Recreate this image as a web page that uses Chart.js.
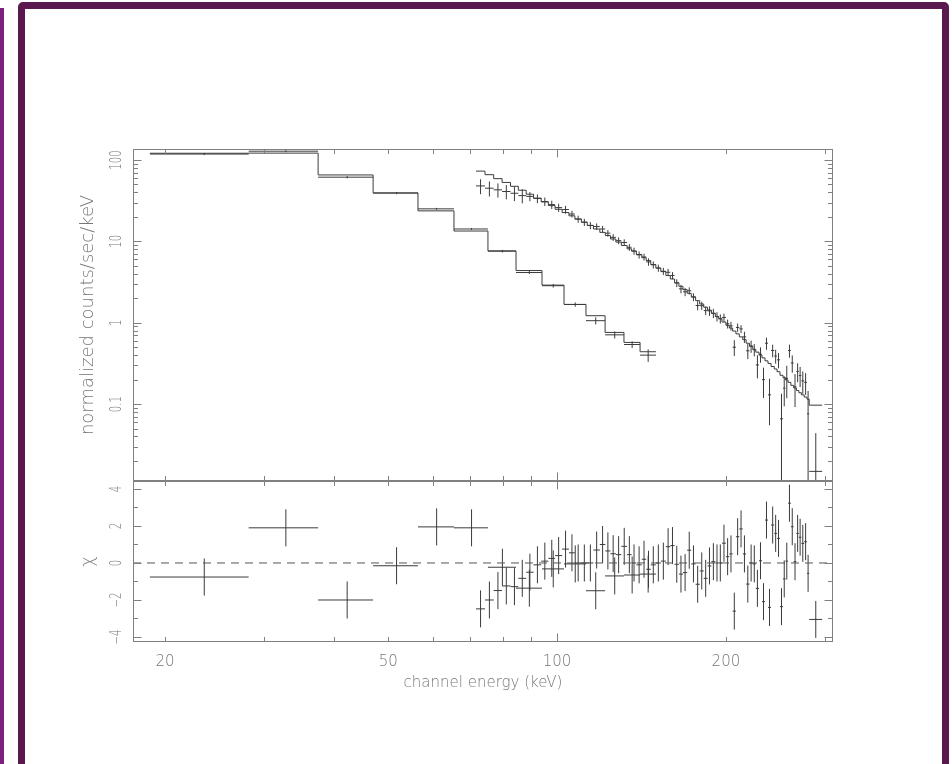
<!DOCTYPE html>
<html>
<head>
<meta charset="utf-8">
<title>Spectrum and residuals</title>
<script src="https://cdn.jsdelivr.net/npm/chart.js@4.4.1/dist/chart.umd.min.js"></script>
<style>
  html, body { margin: 0; padding: 0; background: #fff; }
  body { position: relative; width: 952px; height: 764px; overflow: hidden; }
  .strip { position: absolute; left: 0; top: 8px; bottom: 0; width: 4px; background: #7c1f80; }
  .frame {
    position: absolute; left: 18px; top: 2px; width: 931px; height: 770px;
    box-sizing: border-box; border: 7px solid #5b184f; border-radius: 5px;
  }
  canvas { position: absolute; left: 0; top: 0; }
</style>
</head>
<body>
<div class="strip"></div>
<div class="frame"></div>
<canvas id="spectrum" width="952" height="764"></canvas>
<canvas id="residuals" width="952" height="764"></canvas>
<script>
// Low-energy instrument: wide channels (keV edges), rate, 1-sigma error, fitted model, delta-chi
const lowEdges = [18.8, 28.2, 37.5, 47.0, 56.5, 65.5, 75.3, 84.5, 94.0, 102.9, 112.6, 121.8, 131.6, 140.6, 150.1];
const lowRate = [118.3, 128.3, 61.5, 39.2, 25.1, 14.2, 7.58, 4.14, 2.85, 1.675, 1.06, 0.71, 0.54, 0.40];
const lowRateErr = [3.6, 3.6, 2.0, 1.2, 0.7, 0.4, 0.27, 0.175, 0.145, 0.1, 0.107, 0.07, 0.05, 0.07];
const lowModel = [121, 121.5, 65.5, 39.4, 23.7, 13.4, 7.64, 4.38, 2.90, 1.68, 1.22, 0.76, 0.573, 0.44];
const lowChi = [-0.76, 1.9, -2.0, -0.15, 1.95, 1.9, -0.23, -1.36, -0.32, -0.05, -1.5, -0.7, -0.65, -0.6];

// High-energy instrument: narrow channels
const hiEdges = [
  71.7, 74.4, 77.1, 79.8, 82.6, 85.3, 88.1, 90.8, 93.7, 96.5, 99.2, 102.1, 105.0, 107.6, 110.5,
  113.2, 116.1, 119.2, 121.9, 124.5, 127.3, 130.2, 133.3, 135.8, 138.5, 141.6, 144.2, 146.9, 150.0,
  153.1, 156.3, 159.2, 162.0, 164.9, 167.7, 170.6, 173.5, 176.6, 179.6, 182.6, 185.5, 188.4, 191.5,
  194.1, 196.8, 200.0, 202.8, 205.6, 208.4, 211.3, 214.3, 217.3, 220.3, 223.3, 226.1, 229.1, 231.9,
  234.8, 237.7, 240.7, 243.9, 246.7, 249.7, 252.8, 255.4, 258.1, 261.1, 264.1, 267.1, 269.8, 272.6,
  275.8, 279.0, 281.5, 296.9
];
const hiRate = [
  48, 45, 43, 41, 39, 36.5, 35.7, 33.6, 30.9, 28.3,
  26.0, 24.6, 21.7, 18.8, 17.2, 15.7, 15.2, 14.2, 12.6, 11.2,
  10.2, 9.7, 8.46, 7.6, 6.83, 6.43, 5.6, 5.15, 4.7, 4.29,
  4.17, 3.81, 3.08, 2.61, 2.40, 2.47, 2.07, 1.63, 1.62, 1.41,
  1.40, 1.31, 1.19, 1.12, 1.16, 0.97, 0.915, 0.50, 0.875, 0.84,
  0.67, 0.452, 0.515, 0.466, 0.303, 0.41, 0.20, 0.56, 0.13, 0.456,
  0.39, 0.35, 0.066, 0.157, 0.207, 0.455, 0.32, 0.163, 0.252, 0.224,
  0.193, 0.185, 0.076, 0.0149
];
const hiRateErr = [
  10, 9.4, 8.5, 8.2, 7.8, 7.2, 4.6, 4.1, 3.7, 3.3,
  3.0, 2.7, 2.06, 1.88, 1.72, 1.57, 1.42, 1.29, 1.18, 1.07,
  0.98, 0.89, 0.81, 0.76, 0.69, 0.63, 0.58, 0.52, 0.47, 0.425,
  0.42, 0.38, 0.34, 0.31, 0.28, 0.25, 0.23, 0.21, 0.19, 0.17,
  0.19, 0.17, 0.155, 0.146, 0.133, 0.121, 0.112, 0.111, 0.102, 0.094,
  0.105, 0.095, 0.088, 0.080, 0.096, 0.088, 0.081, 0.095, 0.075, 0.081,
  0.076, 0.075, 0.068, 0.063, 0.089, 0.083, 0.077, 0.071, 0.066, 0.062,
  0.059, 0.055, 0.069, 0.029
];
const hiModel = [
  73, 66, 59, 53, 47.5, 42.5, 38, 34, 30.5, 27.5,
  24.8, 22.6, 20.6, 18.8, 17.2, 15.7, 14.2, 12.9, 11.8, 10.7,
  9.8, 8.9, 8.1, 7.6, 6.9, 6.3, 5.8, 5.2, 4.7, 4.25,
  3.8, 3.45, 3.1, 2.8, 2.55, 2.3, 2.08, 1.87, 1.70, 1.55,
  1.43, 1.30, 1.19, 1.12, 1.02, 0.93, 0.86, 0.79, 0.73, 0.67,
  0.62, 0.56, 0.515, 0.47, 0.435, 0.40, 0.37, 0.34, 0.316, 0.29,
  0.27, 0.25, 0.226, 0.211, 0.198, 0.185, 0.170, 0.158, 0.147, 0.138,
  0.130, 0.122, 0.115, 0.097
];
const hiChi = [
  -2.48, -2.0, -1.49, -1.24, -1.28, -0.83, -0.5, -0.1, 0.1, 0.25,
  0.4, 0.75, 0.55, 0.0, 0.0, 0.0, 0.7, 1.0, 0.65, 0.5,
  0.45, 0.9, 0.45, 0.0, -0.1, 0.2, -0.34, -0.1, 0.0, 0.1,
  0.88, 0.94, -0.07, -0.6, -0.52, 0.69, -0.05, -1.15, -0.43, -0.83,
  -0.16, 0.07, 0.0, 0.0, 1.07, 0.34, 0.49, -2.6, 1.42, 1.84,
  0.49, -1.14, 0.0, -0.05, -1.37, 0.12, -2.09, 2.32, -2.4, 2.05,
  1.6, 1.33, -2.36, -0.86, 0.1, 3.23, 1.96, 0.07, 1.6, 1.39,
  1.06, 1.15, -0.56, -3.05
];

// Axis ranges and labelled ticks
const energyRange = [17.54, 310.4];
const rateRange = [0.01135, 136.5];
const chiRange = [-4.27, 4.43];
const energyLabels = [20, 50, 100, 200];
const rateLabels = [100, 10, 1, 0.1];
const chiLabels = [4, 2, 0, -2, -4];

const INK = '#3b3b3b';
const AXIS = '#808080';
const TEXT = '#777';
const FONT = '"DejaVu Sans", "Liberation Sans", sans-serif';

// Model histogram: one horizontal run per channel, drop at each edge
function stepLine(edges, values) {
  const pts = values.map((v, i) => ({ x: edges[i], y: v }));
  pts.push({ x: edges[edges.length - 1], y: values[values.length - 1] });
  return pts;
}

// Data crosses: channel width across, +/- error up and down, gaps between crosses
function crosses(edges, values, errs, floor) {
  const pts = [];
  values.forEach((v, i) => {
    const lo = edges[i], hi = edges[i + 1], mid = (lo + hi) / 2;
    const down = Math.max(v - errs[i], floor);
    pts.push({ x: lo, y: v }, { x: hi, y: v }, { x: hi, y: NaN });
    pts.push({ x: mid, y: down }, { x: mid, y: v + errs[i] }, { x: mid, y: NaN });
  });
  return pts;
}

function lineSet(data, extra) {
  return Object.assign({
    data, borderColor: INK, borderWidth: 1, pointRadius: 0, fill: false, spanGaps: false
  }, extra || {});
}

function logTicks(min, max) {
  const major = [], minor = [];
  for (let e = Math.floor(Math.log10(min)); e <= Math.ceil(Math.log10(max)); e++) {
    for (let m = 1; m < 10; m++) {
      const v = m * Math.pow(10, e);
      if (v < min || v > max) continue;
      (m === 1 ? major : minor).push(v);
    }
  }
  return { major, minor };
}

// squeeze < 1 narrows the text along its own direction
function drawText(ctx, text, x, y, rotate, size, squeeze) {
  ctx.save();
  ctx.translate(x, y);
  if (rotate) ctx.rotate(-Math.PI / 2);
  if (squeeze) ctx.scale(squeeze, 1);
  ctx.font = '200 ' + size + 'px ' + FONT;
  ctx.fillStyle = TEXT;
  ctx.textAlign = 'center';
  ctx.textBaseline = 'middle';
  ctx.fillText(text, 0, 0);
  ctx.restore();
}

// Box, inward ticks on all four sides, rotated y labels
function panelAxes(opts) {
  return {
    id: 'panelAxes',
    afterDraw(chart) {
      const { ctx, chartArea: a } = chart;
      const xs = chart.scales.x, ys = chart.scales.y;
      const L = a.left + 0.5, R = a.right - 0.5, T = a.top + 0.5, B = a.bottom - 0.5;
      ctx.save();
      ctx.strokeStyle = AXIS;
      ctx.lineWidth = 1;
      ctx.strokeRect(L, T, R - L, B - T);

      const seg = (x1, y1, x2, y2) => {
        ctx.beginPath(); ctx.moveTo(x1, y1); ctx.lineTo(x2, y2); ctx.stroke();
      };
      const xt = logTicks(energyRange[0], energyRange[1]);
      [[xt.major, 8], [xt.minor, 4.5]].forEach(([vals, len]) => vals.forEach(v => {
        const px = Math.round(xs.getPixelForValue(v)) + 0.5;
        seg(px, B, px, B - len);
        seg(px, T, px, T + len);
      }));
      [[opts.yMajor, 8], [opts.yMinor, 4.5]].forEach(([vals, len]) => vals.forEach(v => {
        const py = Math.round(ys.getPixelForValue(v)) + 0.5;
        seg(L, py, L + len, py);
        seg(R, py, R - len, py);
      }));
      ctx.restore();

      opts.yLabels.forEach(v => {
        const txt = v < 0 ? '\u2212' + Math.abs(v) : String(v);
        drawText(ctx, txt, 117, ys.getPixelForValue(v), true, 15, 0.68);
      });
      drawText(ctx, opts.yTitle, 88, (a.top + a.bottom) / 2, true, 18);

      if (opts.xLabels) {
        energyLabels.forEach(v => drawText(ctx, String(v), xs.getPixelForValue(v), a.bottom + 20, false, 15));
        drawText(ctx, 'channel energy (keV)', (a.left + a.right) / 2, a.bottom + 41, false, 15);
      }
    }
  };
}

function baseOptions(padTop, padBottom, yScale) {
  return {
    responsive: false,
    animation: false,
    parsing: false,
    normalized: true,
    layout: { padding: { left: 133, right: 119, top: padTop, bottom: padBottom } },
    plugins: { legend: { display: false }, tooltip: { enabled: false } },
    events: [],
    scales: {
      x: { type: 'logarithmic', min: energyRange[0], max: energyRange[1], bounds: 'data', display: false },
      y: Object.assign({ display: false, bounds: 'data' }, yScale)
    }
  };
}

const rateFloor = rateRange[0] / 4;
const rateTicks = logTicks(rateRange[0], rateRange[1]);

new Chart(document.getElementById('spectrum'), {
  type: 'line',
  data: {
    datasets: [
      lineSet(stepLine(lowEdges, lowModel), { stepped: 'before' }),
      lineSet(crosses(lowEdges, lowRate, lowRateErr, rateFloor)),
      lineSet(stepLine(hiEdges, hiModel), { stepped: 'before' }),
      lineSet(crosses(hiEdges, hiRate, hiRateErr, rateFloor))
    ]
  },
  options: baseOptions(149, 283, { type: 'logarithmic', min: rateRange[0], max: rateRange[1] }),
  plugins: [panelAxes({
    yMajor: rateTicks.major, yMinor: rateTicks.minor,
    yLabels: rateLabels, yTitle: 'normalized counts/sec/keV'
  })]
});

const unitErr = n => new Array(n).fill(1);

new Chart(document.getElementById('residuals'), {
  type: 'line',
  data: {
    datasets: [
      lineSet([{ x: energyRange[0], y: 0 }, { x: energyRange[1], y: 0 }], { borderDash: [8, 6], borderColor: '#555' }),
      lineSet(crosses(lowEdges, lowChi, unitErr(lowChi.length), -10)),
      lineSet(crosses(hiEdges, hiChi, unitErr(hiChi.length), -10))
    ]
  },
  options: baseOptions(481, 122, { type: 'linear', min: chiRange[0], max: chiRange[1] }),
  plugins: [panelAxes({
    yMajor: [-4, -2, 0, 2, 4], yMinor: [-3, -1, 1, 3],
    yLabels: chiLabels, yTitle: '\u03c7', xLabels: true
  })]
});
</script>
</body>
</html>
